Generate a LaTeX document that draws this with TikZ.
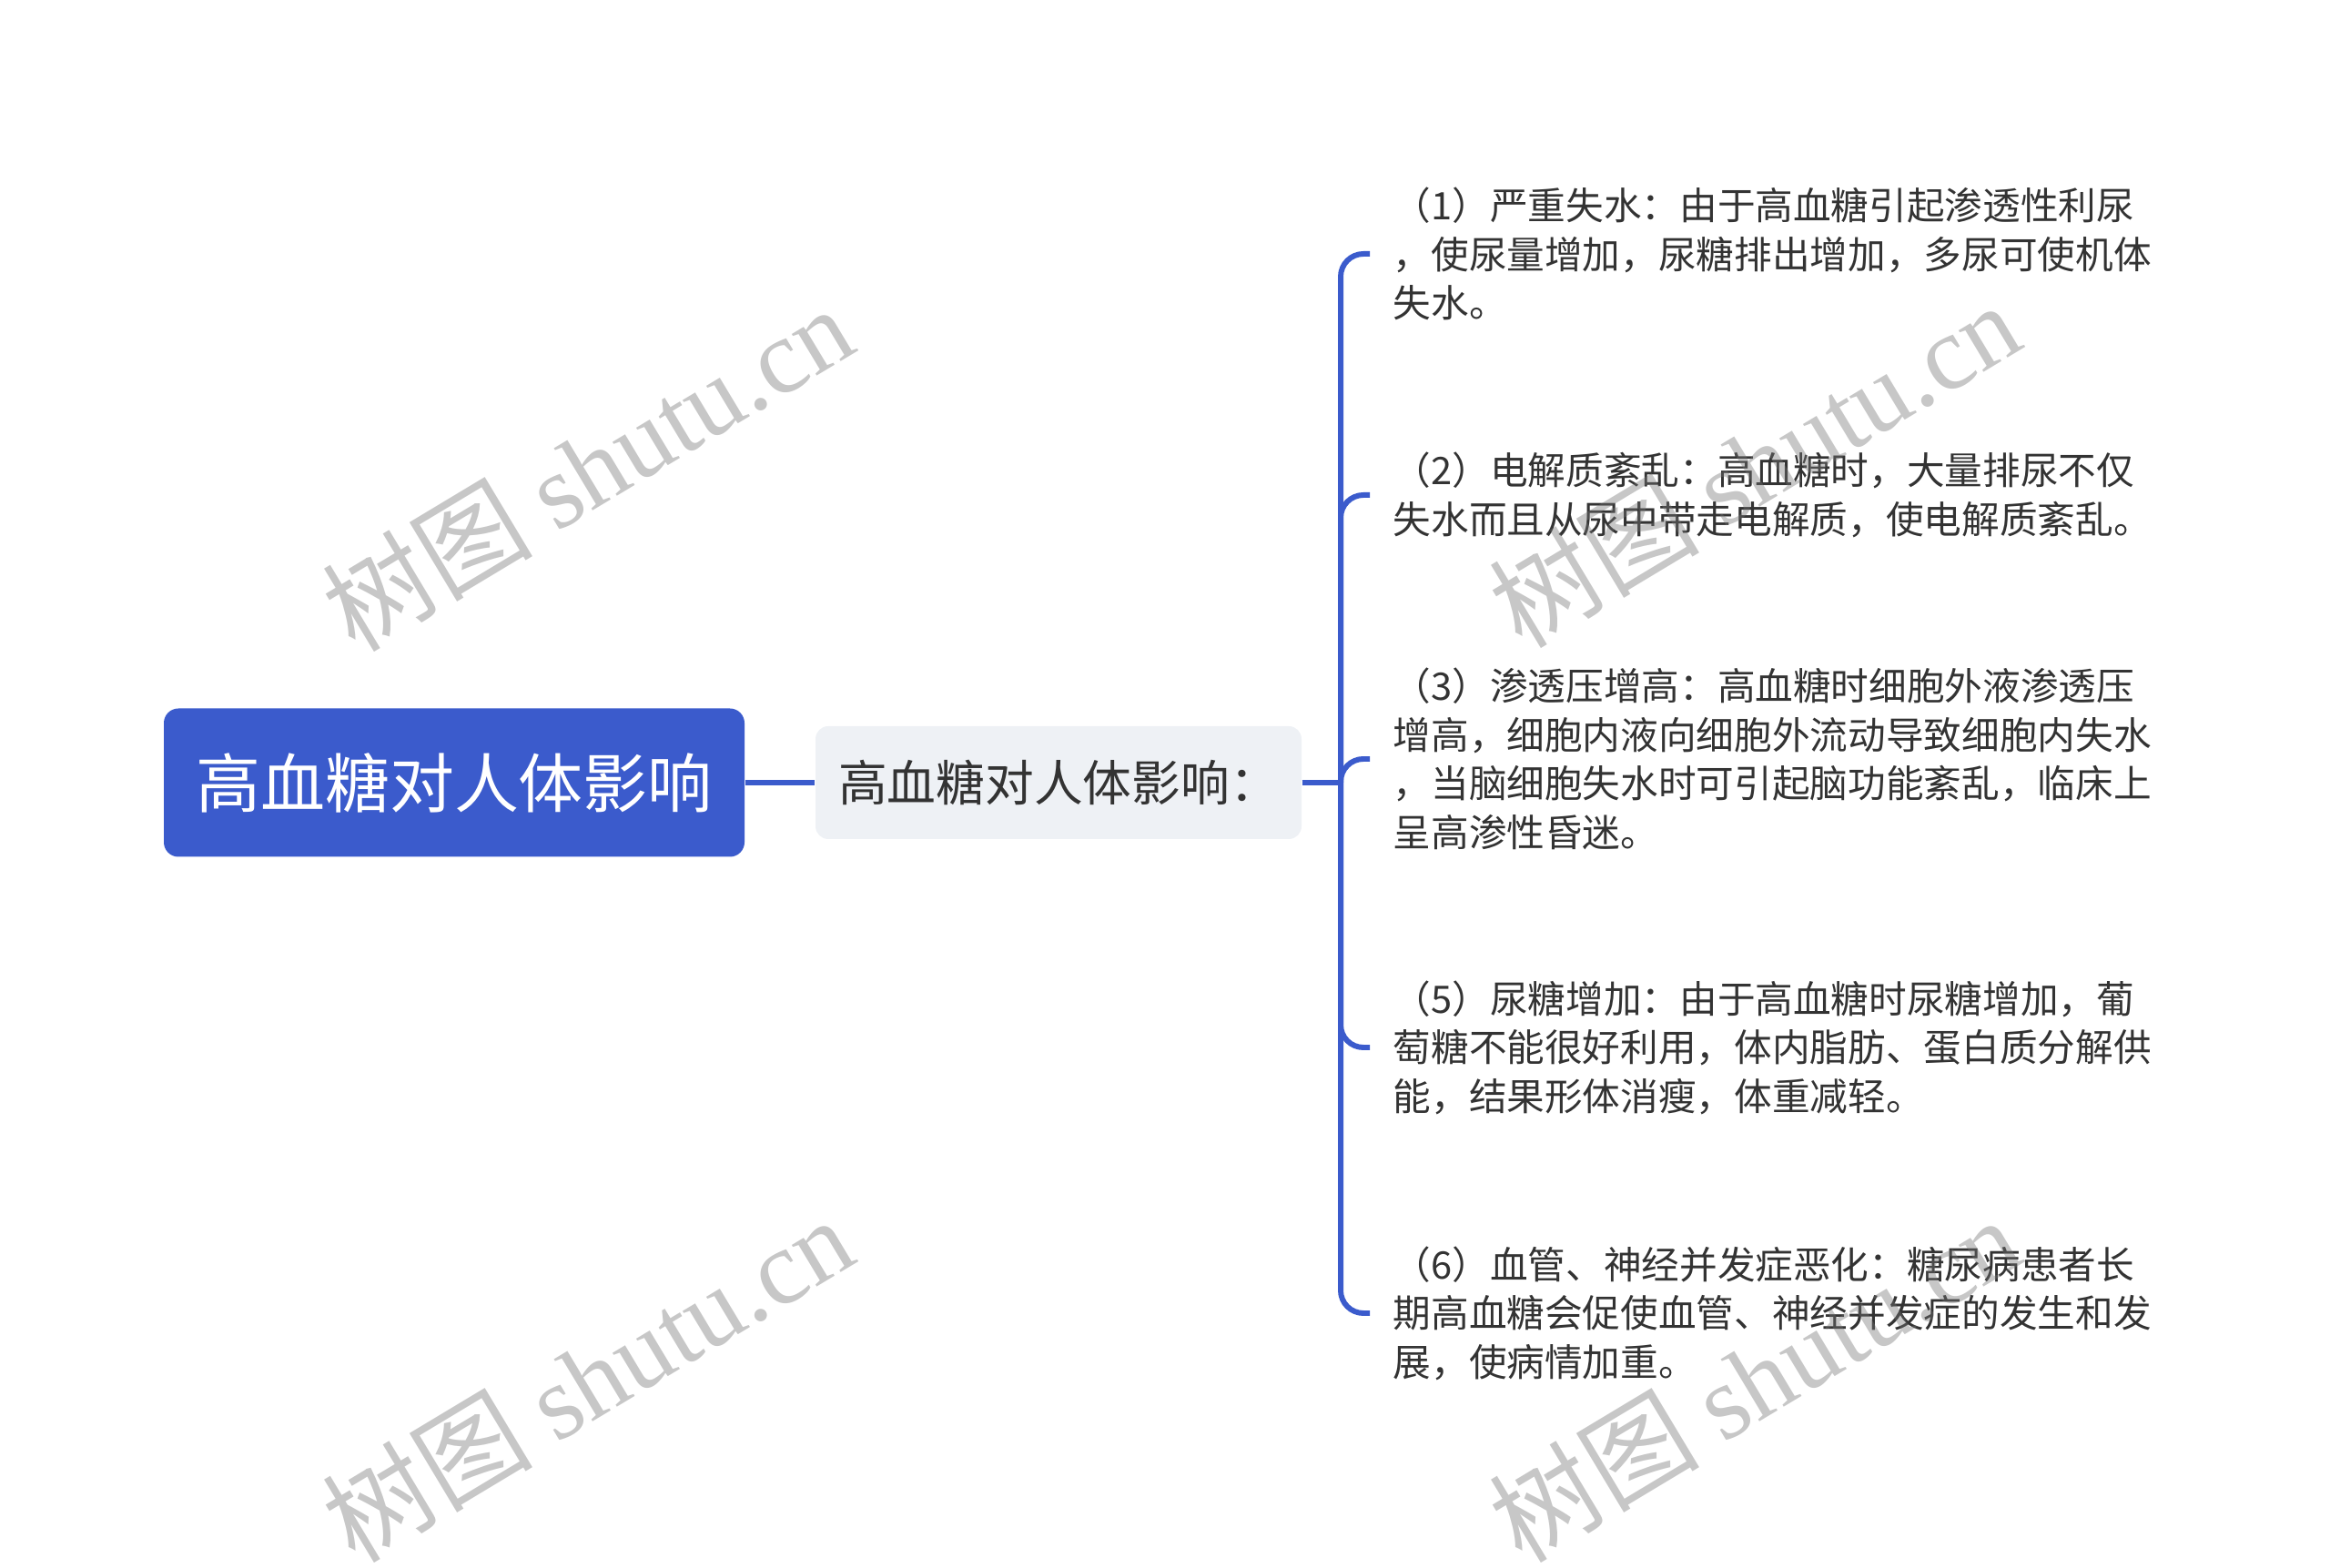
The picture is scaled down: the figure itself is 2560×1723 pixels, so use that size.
\documentclass[tikz,border=0pt]{standalone}
\usepackage{fontspec}
\setmainfont{Noto Sans CJK SC}
\newfontfamily\wmserif{Liberation Serif}
\definecolor{rootblue}{HTML}{3B5BCC}
\definecolor{midgray}{HTML}{EEF1F5}
\definecolor{txtdark}{HTML}{333333}

\begin{document}
\begin{tikzpicture}[x=0.1mm,y=-0.1mm]
      \tikzstyle{link} = [draw=rootblue, line width=1.7pt]
      \tikzstyle{rootbox} = [rectangle, rounded corners=1.6mm, fill=rootblue, text=white, minimum width=63.8mm, minimum height=16.3mm, font=\fontsize{20.2pt}{24pt}\selectfont]
      \tikzstyle{midbox} = [rectangle, rounded corners=1.4mm, fill=midgray, text=txtdark, minimum width=53.4mm, minimum height=12.4mm, font=\fontsize{15.3pt}{18pt}\selectfont]
      \tikzstyle{leaf} = [anchor=west, inner xsep=2.5mm, inner ysep=0pt, align=left, text=txtdark, font=\fontsize{11.85pt}{15.2pt}\selectfont]
      \tikzstyle{wmark} = [rotate=31, text=black!55, text opacity=0.4, font=\fontsize{33pt}{38pt}\selectfont]
      \useasboundingbox (0,0) rectangle (2560,1723);
      \node[rootbox] (root) at (499,860) {高血糖对人体影响};
      \node[midbox] (mid) at (1163,860) {高血糖对人体影响：};
      \coordinate (hub) at (1473,860);
      \node[leaf] (c1) at (1505,279) {（1）严重失水：由于高血糖引起渗透性利尿\\，使尿量增加，尿糖排出增加，多尿可使机体\\失水。};
      \node[leaf] (c2) at (1505,544) {（2）电解质紊乱：高血糖时，大量排尿不仅\\失水而且从尿中带走电解质，使电解质紊乱。};
      \node[leaf] (c3) at (1505,834) {（3）渗透压增高：高血糖时细胞外液渗透压\\增高，细胞内液向细胞外流动导致细胞内失水\\，当脑细胞失水时可引起脑功能紊乱，临床上\\呈高渗性昏迷。};
      \node[leaf] (c5) at (1505,1151) {（5）尿糖增加：由于高血糖时尿糖增加，葡\\萄糖不能很好利用，体内脂肪、蛋白质分解供\\能，结果形体消瘦，体重减轻。};
      \node[leaf] (c6) at (1505,1443) {（6）血管、神经并发症恶化：糖尿病患者长\\期高血糖会促使血管、神经并发症的发生和发\\展，使病情加重。};
      \draw[link] (root) -- (mid);
      \draw[link] (mid) -- (hub);
      \foreach \c in {c1,c2,c3,c5,c6}
        \draw[link, rounded corners=2.5mm] (hub) |- (\c.west);
      % watermarks
      \foreach \wx/\wy [count=\i] in {645/514, 1927/510, 645/1515, 1927/1515}
        \node[wmark] (wm\i) at (\wx,\wy) {树图 {\wmserif shutu.cn}};
\end{tikzpicture}
\end{document}
